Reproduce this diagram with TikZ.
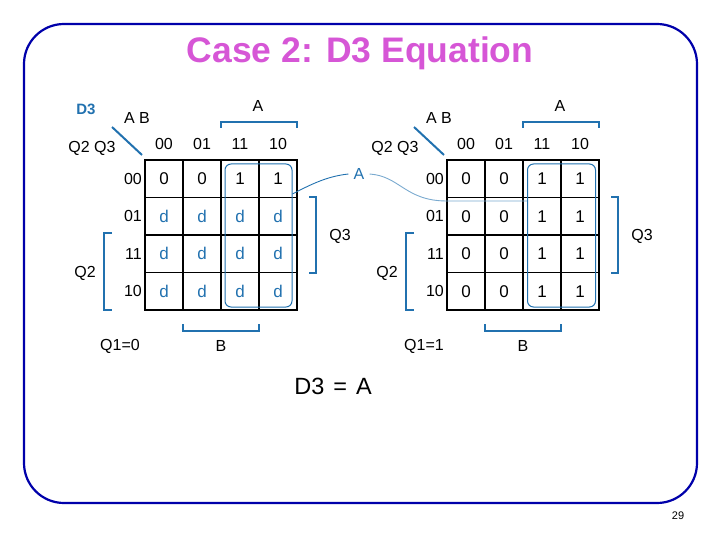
\documentclass[tikz,border=0pt]{standalone}
\usepackage{fontspec}
\setmainfont{Liberation Sans}
\definecolor{kblue}{RGB}{33,113,175}
\definecolor{frameblue}{RGB}{0,0,170}
\definecolor{titlepink}{RGB}{214,86,214}
\newcommand\kd{\textcolor{kblue}{d}}
\begin{document}
\begin{tikzpicture}[x=1pt,y=-1pt,
  cell/.style={draw=black,line width=1.6pt,minimum width=38pt,minimum height=37.5pt,inner sep=0pt,font=\fontsize{17}{19}\selectfont},
  lbl/.style={inner sep=0pt,font=\fontsize{16}{18}\selectfont},
  brk/.style={draw=kblue,line width=2.4pt},
  grp/.style={draw=kblue,line width=1pt,rounded corners=6pt,minimum width=67pt,minimum height=143pt,inner sep=0pt},
  conn/.style={draw=kblue,line width=0.9pt}]
\useasboundingbox (0,0) rectangle (720,540);
% frame
\draw[frameblue,line width=2.2pt,rounded corners=40pt] (24,24) rectangle (697,503);
\node[text=titlepink,font=\fontsize{35.5}{38}\selectfont\bfseries] (title) at (360,53) {Case 2: D3 Equation};
\node[font=\fontsize{11}{12}\selectfont] (page) at (678,516) {29};
% ---------- left map ----------
\node[text=kblue,font=\fontsize{15}{17}\selectfont\bfseries] (D3) at (86,109) {D3};
\foreach \row/\a/\b/\c/\d in {0/0/0/1/1,1/\kd/\kd/\kd/\kd,2/\kd/\kd/\kd/\kd,3/\kd/\kd/\kd/\kd}{
  \foreach \col/\v in {0/\a,1/\b,2/\c,3/\d}{
    \node[cell] (L\row\col) at ({164+38*\col},{178.75+37.5*\row}) {\v};
  }}
\foreach \col/\t in {0/00,1/01,2/11,3/10}{
  \node[lbl] (Lc\col) at ({164+38*\col},144) {\t};}
\foreach \row/\t in {0/00,1/01,2/11,3/10}{
  \node[lbl,anchor=east] (Lr\row) at (142,{178.75+37.5*\row}) {\t};}
\node[lbl] (LAB) at (137,118) {A B};
\node[lbl] (LQQ) at (92,148) {Q2 Q3};
\coordinate (Ld1) at (112,127); \coordinate (Ld2) at (142,155);
\draw[kblue,line width=2pt] (Ld1) -- (Ld2);
\node[lbl] (LA) at (258,106) {A};
\draw[brk] (221,128) -- (221,122) -- (297,122) -- (297,128);
\node[lbl] (LQ3) at (340,236) {Q3};
\draw[brk] (309,197) -- (316,197) -- (316,273) -- (309,273);
\node[lbl] (LQ2) at (85,273) {Q2};
\draw[brk] (112,233) -- (104,233) -- (104,310) -- (112,310);
\node[lbl] (LB) at (221,346) {B};
\draw[brk] (183,324) -- (183,331) -- (259,331) -- (259,324);
\node[lbl] (LQ1) at (120,346) {Q1=0};
\node[grp] (Lg) at (258.5,235.5) {};
% ---------- right map ----------
\foreach \row/\a/\b/\c/\d in {0/0/0/1/1,1/0/0/1/1,2/0/0/1/1,3/0/0/1/1}{
  \foreach \col/\v in {0/\a,1/\b,2/\c,3/\d}{
    \node[cell] (R\row\col) at ({466+38*\col},{178.75+37.5*\row}) {\v};
  }}
\foreach \col/\t in {0/00,1/01,2/11,3/10}{
  \node[lbl] (Rc\col) at ({466+38*\col},144) {\t};}
\foreach \row/\t in {0/00,1/01,2/11,3/10}{
  \node[lbl,anchor=east] (Rr\row) at (444,{178.75+37.5*\row}) {\t};}
\node[lbl] (RAB) at (439,118) {A B};
\node[lbl] (RQQ) at (395,148) {Q2 Q3};
\coordinate (Rd1) at (414,127); \coordinate (Rd2) at (444,155);
\draw[kblue,line width=2pt] (Rd1) -- (Rd2);
\node[lbl] (RA) at (560,106) {A};
\draw[brk] (523,128) -- (523,122) -- (599,122) -- (599,128);
\node[lbl] (RQ3) at (642,236) {Q3};
\draw[brk] (611,197) -- (618,197) -- (618,273) -- (611,273);
\node[lbl] (RQ2) at (387,273) {Q2};
\draw[brk] (414,233) -- (406,233) -- (406,310) -- (414,310);
\node[lbl] (RB) at (523,346) {B};
\draw[brk] (485,324) -- (485,331) -- (561,331) -- (561,324);
\node[lbl] (RQ1) at (424,346) {Q1=1};
\node[grp,minimum width=68pt] (Rg) at (561.5,235.5) {};
% ---------- connector ----------
\node[lbl,text=kblue,inner sep=5pt] (Alab) at (359,174) {A};
\coordinate (c1) at (Lg.east |- 0,194);
\coordinate (c2) at (Rg.west |- 0,201);
\draw[conn] (c1) .. controls (315,182) and (330,176) .. (Alab.west);
\draw[conn,draw=kblue!60] (Alab.east) .. controls (400,176) and (405,201) .. (447,201) -- (c2);
% ---------- equation ----------
\node[font=\fontsize{23.5}{26}\selectfont] (eq) at (333,386) {D3\hspace{9pt}=\hspace{9pt}A};
\end{tikzpicture}
\end{document}
